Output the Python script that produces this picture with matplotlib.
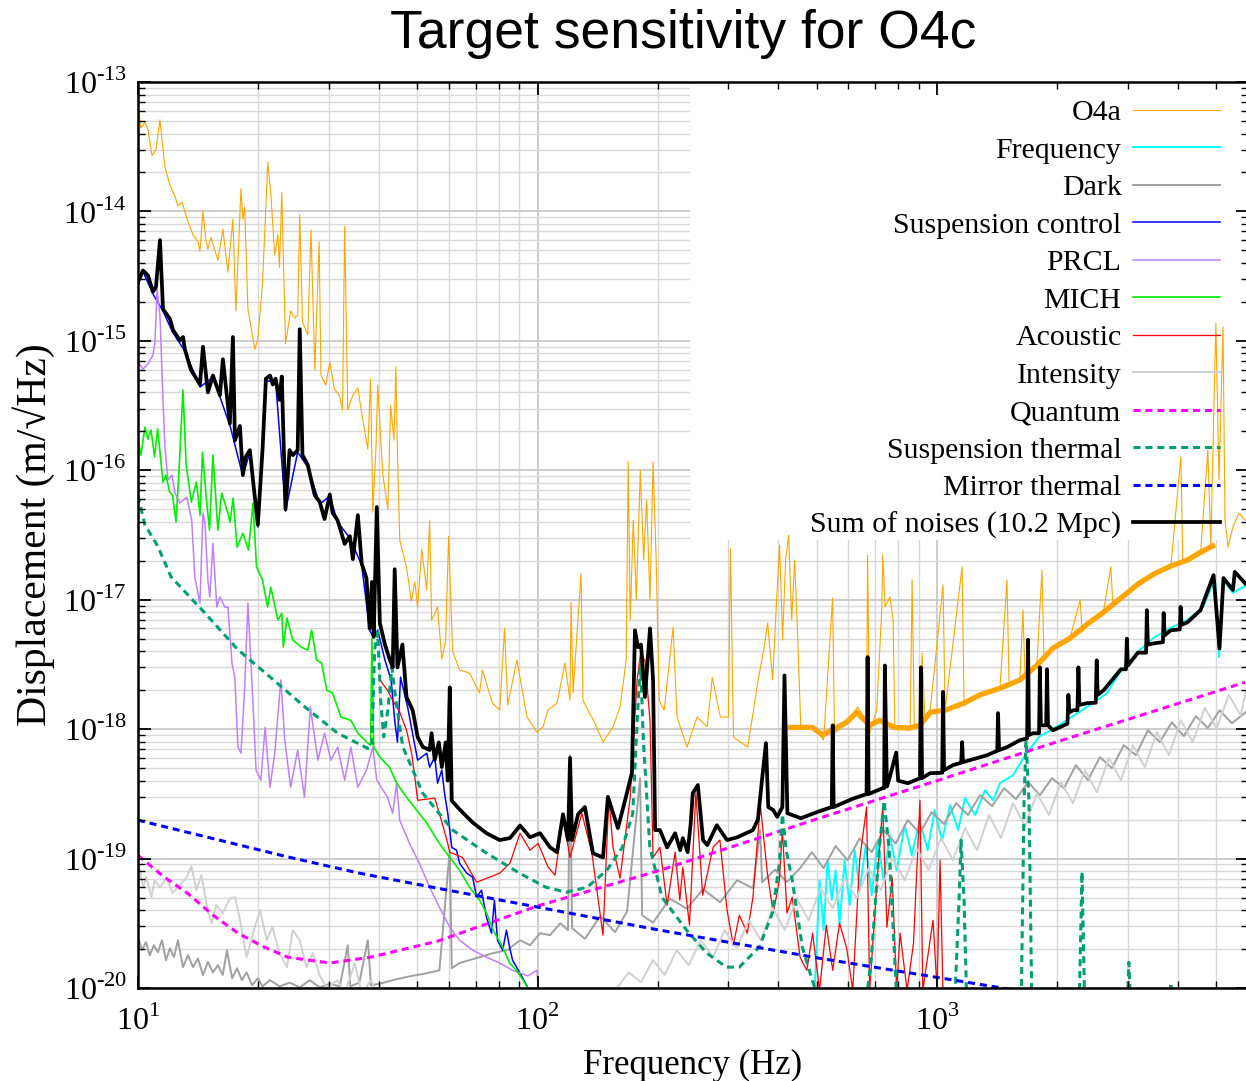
import matplotlib
matplotlib.use("Agg")
import matplotlib.pyplot as plt
import numpy as np
from matplotlib.patches import Rectangle
from matplotlib.ticker import FixedLocator, NullFormatter, FuncFormatter

plt.rcParams["font.family"] = "serif"
plt.rcParams["font.serif"] = ["Liberation Serif", "DejaVu Serif"]
plt.rcParams["mathtext.fontset"] = "custom"
plt.rcParams["mathtext.rm"] = "Liberation Serif"
plt.rcParams["axes.unicode_minus"] = False

# (frequency [Hz], displacement [m/rtHz])
o4a = [(10.0, 6.6e-14), (10.17, 4.4e-14), (10.41, 4.9e-14), (10.59, 4.3e-14), (10.84, 2.7e-14),
       (11.09, 3.0e-14), (11.35, 5.1e-14), (11.55, 3.0e-14), (11.68, 2.2e-14), (12.02, 1.6e-14),
       (12.38, 1.3e-14), (12.59, 1.1e-14), (12.89, 1.18e-14), (13.34, 8.3e-15), (13.73, 6.6e-15),
       (14.13, 5.8e-15), (14.29, 4.9e-15), (14.54, 1.0e-14), (14.79, 6.0e-15), (14.96, 5.1e-15),
       (15.22, 6.3e-15), (15.85, 4.2e-15), (16.31, 7.3e-15), (16.79, 3.4e-15), (17.28, 8.7e-15),
       (17.58, 1.7e-15), (18.1, 1.5e-14), (18.3, 8.7e-15), (18.5, 1.08e-14), (18.84, 1.76e-15),
       (19.6, 8.6e-16), (19.95, 1.03e-15), (20.5, 2.85e-15), (21.13, 2.4e-14), (21.49, 1.4e-14),
       (21.99, 4.6e-15), (22.4, 6.6e-15), (22.6, 3.7e-15), (22.9, 1.4e-14), (23.4, 9.5e-16),
       (24.1, 1.7e-15), (24.7, 1.5e-15), (25.1, 1.58e-15), (25.4, 9.5e-15), (25.8, 1.4e-15),
       (26.6, 1.11e-15), (27.1, 7.2e-15), (27.7, 6.0e-16), (28.4, 5.8e-15), (28.7, 5.45e-16),
       (29.5, 4.56e-16), (30.2, 6.86e-16), (31.0, 4.24e-16), (31.9, 3.81e-16), (32.5, 2.92e-16),
       (32.9, 7.7e-15), (33.5, 2.92e-16), (34.5, 3.81e-16), (35.5, 4.32e-16), (36.5, 2.49e-16),
       (37.6, 1.46e-16), (38.2, 5.07e-16), (38.7, 4.75e-17), (39.4, 1.46e-16), (39.8, 4.56e-16),
       (41.0, 9.2e-17), (42.2, 5.01e-17), (42.9, 3.18e-16), (43.7, 1.71e-16), (44.2, 6.27e-16),
       (44.6, 1.41e-16), (45.2, 2.89e-17), (47.0, 1.79e-17), (48.3, 9.75e-18), (49.3, 1.37e-17),
       (50.1, 8.77e-18), (51.3, 2.46e-17), (52.8, 1.19e-17), (53.7, 4.12e-17), (54.3, 6.95e-18),
       (56.2, 8.77e-18), (57.6, 3.47e-18), (58.9, 4.88e-18), (59.9, 3.1e-17), (61.3, 4.0e-18),
       (63.8, 2.86e-18), (67.6, 2.71e-18), (71.6, 1.9e-18), (72.8, 2.86e-18), (77.1, 1.59e-18),
       (80.4, 1.4e-18), (82.7, 6.03e-18), (84.2, 1.54e-18), (88.8, 3.42e-18), (94.1, 1.24e-18),
       (99.7, 9.48e-19), (103.2, 1.04e-18), (106.1, 1.4e-18), (111.9, 1.59e-18), (117.1, 3.24e-18),
       (120.6, 1.67e-18), (121.3, 9.58e-18), (122.7, 1.9e-18), (128.5, 1.6e-17), (129.9, 1.67e-18),
       (139.2, 1.11e-18), (145.9, 7.94e-19), (154.5, 1.04e-18), (160.9, 1.48e-18), (166.7, 3.42e-18),
       (168.6, 1.16e-16), (170.6, 6.95e-18), (173.6, 4.12e-17), (176.7, 1.0e-17), (180.8, 1.0e-16),
       (184.3, 2.03e-17), (187.5, 5.89e-17), (191.2, 1.0e-17), (194.6, 1.16e-16), (198.1, 2.03e-17),
       (201.6, 1.67e-18), (207.5, 1.4e-18), (218.4, 6.14e-18), (223.4, 1.24e-18), (236.7, 7.26e-19),
       (250.8, 1.24e-18), (265.9, 1.04e-18), (273.7, 2.52e-18), (286.8, 1.24e-18), (300.4, 1.24e-18),
       (303.9, 2.5e-17), (309.3, 8.67e-19), (335.7, 7.26e-19), (357.6, 2.52e-18), (368.1, 4.08e-18),
       (376.6, 6.6e-18), (387.6, 2.4e-18), (396.6, 1.0e-17), (403.5, 2.65e-17), (410.5, 4.88e-18),
       (417.7, 2.03e-17), (425.1, 3.15e-17), (432.6, 6.95e-18), (440.1, 2.03e-17), (448.1, 4.88e-18),
       (455.9, 1.04e-18), (490.9, 1.04e-18), (520.0, 8.22e-19), (547.5, 1.03e-17), (553.8, 9.3e-19),
       (597, 1.13e-18), (632, 1.48e-18), (666, 1.17e-18), (670, 2.22e-17), (678, 9.3e-19),
       (706, 1.4e-18), (727, 8.31e-18), (731, 2.22e-17), (741, 8.77e-18), (762, 1.05e-17),
       (776, 6.95e-18), (784, 1.04e-18), (856, 9.82e-19), (866, 1.42e-17), (877, 1.04e-18),
       (906, 1.04e-18), (917, 3.87e-18), (933, 1.13e-18), (961, 1.4e-18), (1035, 1.3e-17),
       (1047, 1.4e-18), (1155, 1.79e-17), (1168, 1.59e-18), (1281, 1.9e-18), (1437, 2.12e-18),
       (1496, 1.42e-17), (1514, 2.27e-18), (1612, 2.4e-18), (1640, 8.31e-18), (1660, 2.62e-18),
       (1778, 3.24e-18), (1830, 1.69e-17), (1852, 3.42e-18), (1950, 4.31e-18), (2154, 5.13e-18),
       (2281, 1.0e-17), (2307, 5.62e-18), (2377, 6.6e-18), (2612, 8.31e-18), (2722, 1.79e-17),
       (2754, 9.08e-18), (2884, 1.05e-17), (3182, 1.34e-17), (3488, 1.6e-17), (3846, 1.79e-17),
       (4074, 1.27e-16), (4121, 2.0e-17), (4571, 2.42e-17), (4760, 1.43e-16), (4842, 2.65e-17),
       (4985, 1.37e-15), (5077, 8.4e-17), (5195, 1.28e-15), (5255, 4.12e-17), (5350, 2.55e-17),
       (5500, 3.64e-17), (5700, 4.67e-17), (5900, 4.12e-17)]

# dense noise floor of the O4a trace above ~400 Hz
o4a_floor = [(428, 1.03e-18), (488, 1.03e-18), (517, 9.0e-19), (594, 1.13e-18), (629, 1.35e-18),
             (678, 1.07e-18), (718, 1.17e-18), (783, 1.03e-18), (853, 1.02e-18), (906, 1.07e-18),
             (961, 1.35e-18), (1047, 1.4e-18), (1168, 1.59e-18), (1281, 1.84e-18), (1437, 2.07e-18),
             (1612, 2.4e-18), (1778, 3.12e-18), (1950, 4.23e-18), (2154, 5.05e-18), (2377, 6.48e-18),
             (2612, 8.02e-18), (2884, 1.03e-17), (3182, 1.32e-17), (3488, 1.58e-17), (3846, 1.82e-17),
             (4240, 2.03e-17), (4571, 2.33e-17), (4898, 2.6e-17)]

frequency = [(494, 9.6e-21), (508, 6.8e-20), (520, 2.8e-20), (532, 9.7e-20), (545, 4.8e-20),
             (557, 8.1e-20), (570, 3.1e-20), (587, 9.7e-20), (604, 4.4e-20), (622, 1.16e-19),
             (640, 5.7e-20), (663, 1.27e-19), (686, 5.2e-20), (710, 1.38e-19), (735, 6.8e-20),
             (761, 1.52e-19), (792, 8.1e-20), (830, 1.81e-19), (864, 1.06e-19), (904, 1.98e-19),
             (947, 1.16e-19), (986, 2.37e-19), (1029, 1.38e-19), (1078, 2.59e-19), (1129, 1.66e-19),
             (1175, 2.93e-19), (1245, 2.17e-19), (1318, 3.38e-19), (1380, 2.82e-19), (1437, 3.82e-19),
             (1549, 4.41e-19), (1680, 6.64e-19), (1808, 8.83e-19), (1950, 1.0e-18), (2188, 1.26e-18),
             (2455, 1.59e-18), (2661, 1.9e-18), (2871, 2.76e-18), (3170, 3.93e-18), (3475, 5.05e-18),
             (3833, 6.03e-18), (4220, 6.95e-18), (4630, 8.77e-18), (4960, 1.45e-17), (5076, 3.6e-18),
             (5194, 1.42e-17), (5500, 1.13e-17), (5900, 1.28e-17)]

dark = [(10.0, 2.47e-20), (10.23, 1.96e-20), (10.47, 2.26e-20), (10.7, 1.79e-20), (10.96, 2.14e-20),
        (11.22, 1.89e-20), (11.48, 2.34e-20), (11.75, 1.64e-20), (12.02, 2.03e-20), (12.3, 1.73e-20),
        (12.59, 2.34e-20), (12.96, 1.45e-20), (13.34, 1.79e-20), (13.73, 1.45e-20), (14.13, 1.69e-20),
        (14.54, 1.26e-20), (14.96, 1.59e-20), (15.4, 1.32e-20), (15.85, 1.5e-20), (16.3, 1.26e-20),
        (16.7, 1.96e-20), (17.2, 1.19e-20), (17.7, 1.42e-20), (18.2, 1.15e-20), (18.7, 1.32e-20),
        (19.3, 1.05e-20), (19.95, 1.19e-20), (20.5, 1.03e-20), (21.4, 1.15e-20), (22.6, 1.03e-20),
        (24.0, 1.1e-20), (25.4, 1.01e-20), (26.9, 1.15e-20), (28.5, 1.01e-20), (30.2, 1.08e-20),
        (32.0, 1.03e-20), (33.5, 2.14e-20), (34.0, 1.03e-20), (35.8, 1.1e-20), (37.6, 2.34e-20),
        (38.3, 1.05e-20), (40.3, 1.08e-20), (43.4, 1.15e-20), (47.8, 1.23e-20), (52.8, 1.3e-20),
        (56.8, 1.37e-20), (60.3, 1.16e-19), (61.0, 1.42e-20), (63.8, 1.56e-20), (69.8, 1.69e-20),
        (77.4, 1.86e-20), (83.9, 1.96e-20), (90.4, 2.34e-20), (95.8, 2.14e-20), (101.4, 2.65e-20),
        (107.5, 2.56e-20), (114, 3.17e-20), (119.2, 2.8e-20), (120.6, 6.29e-19), (122, 2.9e-20),
        (131.4, 2.4e-20), (143.5, 3.6e-20), (156.3, 2.7e-20), (167.5, 3.9e-20), (180.6, 4.18e-19),
        (182.7, 3.65e-20), (194.6, 3.2e-20), (214.4, 4.9e-20), (236.5, 4.1e-20), (259.5, 5.8e-20),
        (286.4, 4.6e-20), (315.8, 6.8e-20), (346.2, 5.9e-20), (360.6, 1.66e-19), (364.8, 6.57e-20),
        (393, 8.2e-20), (421, 6.6e-20), (454, 8.43e-20), (486, 1.12e-19), (520, 8.43e-20),
        (557, 1.25e-19), (597, 9.72e-20), (640, 1.43e-19), (686, 1.12e-19), (735, 1.66e-19),
        (788, 1.31e-19), (844, 1.98e-19), (906, 1.57e-19), (969, 2.28e-19), (1041, 1.85e-19),
        (1116, 2.68e-19), (1195, 2.17e-19), (1281, 3.09e-19), (1373, 2.54e-19), (1471, 3.5e-19),
        (1576, 2.88e-19), (1689, 3.9e-19), (1809, 3.09e-19), (1939, 4.18e-19), (2077, 3.5e-19),
        (2226, 5.27e-19), (2385, 4.04e-19), (2556, 6.08e-19), (2738, 4.99e-19), (2934, 7.52e-19),
        (3144, 6.29e-19), (3369, 9.82e-19), (3610, 7.94e-19), (3868, 1.13e-18), (4145, 8.83e-19),
        (4442, 1.26e-18), (4760, 1.02e-18), (5100, 1.4e-18), (5465, 1.11e-18), (5920, 1.35e-18)]

susp_control = [(10.0, 2.75e-15), (10.3, 3.41e-15), (10.9, 2.3e-15), (11.55, 1.7e-15), (12.2, 1.17e-15),
                (13.1, 8.34e-16), (14.3, 4.39e-16), (15.4, 5.26e-16), (17.0, 2.2e-16), (18.3, 9.02e-17),
                (19.05, 1.38e-16), (19.95, 3.64e-17), (20.9, 4.89e-16), (22.1, 4.89e-16), (23.4, 4.84e-17),
                (25.1, 1.38e-16), (26.6, 1.06e-16), (28.5, 5.48e-17), (30.2, 6.32e-17), (31.6, 3.98e-17),
                (33.9, 3.0e-17), (36.3, 1.85e-17), (38.0, 5.82e-18), (38.9, 5.05e-18), (39.8, 5.82e-18),
                (41.5, 3.42e-18), (43.0, 2.4e-18), (43.9, 1.17e-18), (44.6, 7.94e-19), (45.4, 2.52e-18),
                (47.3, 1.48e-18), (50.1, 5.76e-19), (52.8, 6.52e-19), (53.7, 5.08e-19), (55.3, 6.08e-19),
                (56.2, 3.82e-19), (57.6, 4.82e-19), (58.5, 3.2e-19), (59.6, 2.24e-19), (61.0, 1.22e-19),
                (62.7, 1.16e-19), (63.8, 9.21e-20), (66.5, 7.71e-20), (68.8, 7.18e-20), (70.4, 5.03e-20),
                (72.4, 5.7e-20), (74.5, 3.52e-20), (76.7, 2.65e-20), (78.0, 4.77e-20), (79.4, 2.34e-20),
                (81.8, 1.96e-20), (83.6, 2.8e-20), (85.1, 2.07e-20), (86.6, 1.64e-20), (90.4, 1.3e-20),
                (94.5, 1.01e-20), (97.3, 8e-21)]

prcl = [(10.0, 6.86e-16), (10.29, 6.05e-16), (10.59, 6.62e-16), (10.9, 7.77e-16), (11.03, 9.79e-16),
        (11.16, 2.51e-15), (11.35, 1.58e-15), (11.55, 3.49e-16), (11.68, 1.51e-16), (11.88, 8.4e-17),
        (12.16, 9.18e-17), (12.38, 6.67e-17), (12.73, 5.58e-17), (13.25, 6.2e-17), (13.63, 4.12e-17),
        (13.87, 1.5e-17), (14.29, 9.41e-18), (14.54, 4.67e-17), (14.71, 3.91e-17), (14.96, 1.42e-17),
        (15.13, 1.05e-17), (15.4, 2.74e-17), (15.75, 8.77e-18), (16.03, 1.05e-17), (16.5, 8.77e-18),
        (16.79, 8.77e-18), (17.19, 3.24e-18), (17.48, 2.48e-18), (17.79, 7.26e-19), (18.1, 6.52e-19),
        (18.5, 2.12e-18), (18.84, 9.41e-18), (19.4, 1.59e-18), (19.75, 4.82e-19), (20.3, 4.04e-19),
        (20.8, 1.03e-18), (21.4, 3.56e-19), (21.99, 6.52e-19), (22.78, 2.4e-18), (23.3, 8.22e-19),
        (24.1, 3.56e-19), (25.1, 6.88e-19), (26.1, 2.98e-19), (27.0, 1.48e-18), (28.2, 5.76e-19),
        (29.3, 9.3e-19), (30.4, 5.76e-19), (31.6, 7.26e-19), (32.9, 4.04e-19), (34.1, 7.26e-19),
        (35.5, 3.56e-19), (37.3, 4.82e-19), (38.7, 7.26e-19), (39.6, 4.04e-19), (42.1, 2.98e-19),
        (43.4, 2.24e-19), (44.4, 3.82e-19), (45.2, 1.98e-19), (47.8, 1.31e-19), (50.6, 9.21e-20),
        (53.7, 6.0e-20), (56.8, 4.21e-20), (60.3, 2.95e-20), (63.8, 2.34e-20), (68.8, 1.96e-20),
        (74.5, 1.73e-20), (80.4, 1.56e-20), (86.6, 1.37e-20), (94.5, 1.24e-20), (99.7, 1.37e-20),
        (100.9, 8e-21)]

mich = [(10.0, 1.74e-16), (10.17, 1.31e-16), (10.41, 2.16e-16), (10.59, 1.74e-16), (10.78, 2.05e-16),
        (11.0, 1.27e-16), (11.2, 2.08e-16), (11.55, 8.1e-17), (11.75, 9.18e-17), (12.0, 6.79e-17),
        (12.2, 6.43e-17), (12.45, 3.98e-17), (12.7, 1.16e-16), (12.96, 4.17e-16), (13.2, 1.1e-16),
        (13.6, 5.68e-17), (14.0, 8.1e-17), (14.3, 4.5e-17), (14.5, 1.38e-16), (14.8, 6.43e-17),
        (15.1, 3.45e-17), (15.4, 1.31e-16), (15.85, 3.45e-17), (16.2, 6.67e-17), (16.7, 4.93e-17),
        (17.0, 3.98e-17), (17.3, 6.1e-17), (17.7, 2.55e-17), (18.3, 3.27e-17), (18.9, 2.42e-17),
        (19.4, 5.58e-17), (19.8, 1.79e-17), (20.5, 1.42e-17), (21.1, 8.77e-18), (21.5, 1.25e-17),
        (22.4, 6.95e-18), (22.9, 7.88e-18), (23.1, 4.31e-18), (23.6, 7.2e-18), (24.4, 4.88e-18),
        (25.6, 4.31e-18), (26.6, 4.08e-18), (27.2, 5.82e-18), (28.0, 3.42e-18), (28.8, 3.24e-18),
        (29.7, 2.0e-18), (30.7, 1.9e-18), (32.2, 1.24e-18), (34.1, 1.17e-18), (35.5, 9.3e-19),
        (37.6, 7.8e-19), (38.2, 7.52e-19), (38.5, 5.05e-18), (38.9, 7.26e-19), (40.3, 6.08e-19),
        (42.6, 5.08e-19), (44.4, 3.82e-19), (47.0, 2.98e-19), (49.8, 2.37e-19), (52.8, 1.88e-19),
        (56.8, 1.31e-19), (60.3, 1.02e-19), (63.8, 8.14e-20), (67.6, 6.0e-20), (71.6, 4.77e-20),
        (74.5, 3.79e-20), (77.4, 2.8e-20), (81.8, 2.07e-20), (85.1, 1.56e-20), (88.5, 1.37e-20),
        (92.0, 1.15e-20), (95.8, 9.3e-21)]

acoustic = [(40.3, 2.4e-18), (42.1, 2.0e-18), (43.4, 1.67e-18), (45.2, 1.35e-18), (47.0, 9.82e-19),
            (48.4, 6.52e-19), (49.3, 4.26e-19), (50.1, 2.82e-19), (55.3, 2.93e-19), (56.8, 2.24e-19),
            (59.3, 1.39e-19), (60.3, 1.12e-19), (64.9, 1.02e-19), (67.6, 8.14e-20), (70.4, 6.57e-20),
            (80.4, 7.71e-20), (85.3, 9.21e-20), (90.4, 1.57e-19), (95.8, 1.16e-19), (100.3, 1.31e-19),
            (106.3, 8.58e-20), (110.6, 7.44e-20), (115.8, 2.05e-19), (120.6, 1.02e-19), (129.1, 2.24e-19),
            (136.8, 1.1e-19), (145.8, 2.56e-20), (150.8, 2.93e-19), (154.5, 1.22e-19), (160.9, 7.05e-20),
            (170.6, 2.98e-19), (177.5, 2.4e-18), (180.8, 3.74e-18), (185.7, 3.42e-18), (191.2, 1.17e-18),
            (194.6, 1.02e-19), (202.5, 1.22e-19), (211, 4.37e-20), (221, 1.12e-19), (227, 4.77e-20),
            (231, 8.58e-20), (240, 3.06e-20), (249, 3.2e-19), (259, 5.21e-20), (275, 1.22e-19),
            (286, 1.39e-19), (298, 4.0e-20), (309, 2.14e-20), (320, 3.65e-20), (335, 2.65e-20),
            (346, 5.03e-20), (361, 2.59e-19), (376, 7.71e-20), (389, 3.79e-20), (403, 6.81e-20),
            (410, 1.66e-19), (421, 3.79e-20), (434, 5.03e-20), (454, 1.73e-20), (472, 1.37e-20),
            (488, 2.65e-20), (508, 9.6e-21), (528, 3.06e-20), (548, 1.37e-20), (570, 3.17e-20),
            (594, 2.03e-20), (615, 9.6e-21), (640, 9.72e-20), (666, 2.5e-19), (678, 9.6e-21),
            (704, 5.4e-20), (731, 2.5e-19), (749, 2.95e-20), (772, 7.18e-20), (792, 9.6e-21),
            (808, 2.65e-20), (841, 9.6e-21), (873, 2.22e-20), (906, 2.82e-19), (921, 9.6e-21),
            (977, 3.34e-20), (1000, 9.6e-21), (1017, 9.72e-20), (1035, 8.8e-21), (1135, 8e-21)]

intensity = [(10.0, 9.72e-20), (10.3, 6.0e-20), (10.5, 7.18e-20), (10.8, 5.03e-20), (11.0, 6.81e-20),
             (11.35, 6.0e-20), (11.8, 7.05e-20), (12.2, 5.4e-20), (12.7, 6.23e-20), (13.2, 7.05e-20),
             (13.6, 8.73e-20), (14.0, 5.7e-20), (14.4, 7.44e-20), (14.9, 4.21e-20), (15.3, 3.17e-20),
             (15.7, 4.37e-20), (16.3, 3.79e-20), (17.0, 4.94e-20), (17.5, 5.03e-20), (18.0, 3.34e-20),
             (18.7, 1.73e-20), (19.4, 2.65e-20), (20.2, 4.0e-20), (21.0, 2.34e-20), (21.7, 2.95e-20),
             (22.6, 1.86e-20), (23.6, 1.45e-20), (24.4, 2.8e-20), (25.4, 2.34e-20), (26.4, 1.45e-20),
             (27.4, 1.86e-20), (28.5, 1.24e-20), (29.7, 1.01e-20), (31.6, 1.15e-20), (32.9, 9e-21),
             (34.9, 1.56e-20), (36.3, 9e-21), (38.3, 1.15e-20), (40.3, 8e-21), (143.5, 8e-21),
             (158, 9.96e-21), (169, 1.32e-20), (181.5, 1.11e-20), (194.5, 1.64e-20), (208, 1.26e-20),
             (223, 1.96e-20), (239, 1.5e-20), (256, 2.34e-20), (275, 1.73e-20), (294, 2.8e-20),
             (315, 2.03e-20), (338, 3.34e-20), (362, 2.34e-20), (388, 4.14e-20), (416, 2.8e-20),
             (445, 4.94e-20), (477, 3.34e-20), (511, 5.91e-20), (548, 4.14e-20), (587, 7.05e-20),
             (629, 4.94e-20), (674, 8.43e-20), (723, 5.7e-20), (774, 1.01e-19), (830, 6.81e-20),
             (889, 1.2e-19), (952, 8.14e-20), (1023, 1.44e-19), (1096, 9.72e-20), (1175, 1.72e-19),
             (1259, 1.16e-19), (1349, 2.17e-19), (1445, 1.44e-19), (1549, 2.68e-19), (1660, 1.78e-19),
             (1778, 3.2e-19), (1905, 2.17e-19), (2042, 3.9e-19), (2188, 2.68e-19), (2344, 4.82e-19),
             (2512, 3.26e-19), (2692, 5.98e-19), (2884, 4.04e-19), (3090, 7.52e-19), (3311, 5.08e-19),
             (3548, 9.48e-19), (3802, 6.29e-19), (4074, 1.17e-18), (4365, 7.94e-19), (4677, 1.46e-18),
             (5012, 1.02e-18), (5370, 1.84e-18), (5754, 1.28e-18), (5920, 1.94e-18)]

quantum = [(10, 1.06e-19), (11.5, 7.4e-20), (13.3, 5.4e-20), (15.4, 3.66e-20), (17.8, 2.65e-20),
           (20.5, 2.1e-20), (23.7, 1.73e-20), (30.2, 1.56e-20), (38.2, 1.73e-20), (56.2, 2.3e-20),
           (100, 4.3e-20), (202, 8.1e-20), (507, 2.05e-19), (1000, 4.0e-19), (2000, 8.0e-19),
           (5900, 2.3e-18)]

susp_thermal = [(10.0, 6.4e-17), (10.4, 3.8e-17), (11.2, 2.6e-17), (12.1, 1.5e-17), (14.7, 7.9e-18),
                (17.8, 4.1e-18), (21.5, 2.5e-18), (26.2, 1.48e-18), (31.6, 9.3e-19), (37.6, 7.1e-19),
                (38.5, 7.4e-19), (39.1, 4.1e-18), (39.8, 5.6e-18), (40.5, 1.67e-18), (41.2, 8.7e-19),
                (42.2, 1.4e-18), (43.2, 3.0e-18), (44.2, 1.67e-18), (46.0, 7.3e-19), (51.6, 3.2e-19),
                (61.3, 1.66e-19), (74.6, 1.1e-19), (90.2, 7.7e-20), (105, 6.0e-20), (118, 5.5e-20),
                (133, 6.0e-20), (149, 8.1e-20), (163, 1.22e-19), (173, 2.2e-19), (178, 1.33e-18),
                (181, 3.3e-18), (184, 8.2e-19), (191, 1.22e-19), (205, 5.0e-20), (236, 2.8e-20),
                (265, 1.86e-20), (297, 1.45e-20), (320, 1.45e-20), (359, 2.07e-20), (387, 3.8e-20),
                (403, 9.2e-20), (410, 2.2e-19), (419, 1.16e-19), (434, 6.8e-20), (460, 2.07e-20),
                (487, 1.15e-20), (522, 6e-21), (657, 6e-21), (684, 1.64e-20), (716, 1.16e-19),
                (737, 2.8e-19), (759, 1.16e-19), (790, 1.0e-20), (827, 6e-21), (1103, 6e-21),
                (1135, 4.8e-20), (1148, 1.39e-19), (1168, 4.8e-20), (1189, 6e-21), (1622, 6e-21),
                (1651, 2.8e-19), (1669, 8.2e-19), (1698, 2.8e-19), (1728, 6e-21), (2265, 6e-21),
                (2305, 7.9e-20), (2344, 6e-21), (2985, 6e-21), (3020, 1.58e-20), (3055, 6e-21),
                (3802, 6e-21), (3846, 1.1e-20), (3890, 6e-21), (5900, 6e-21)]

mirror_thermal = [(10, 1.98e-19), (23.7, 1.03e-19), (35.9, 7.7e-20), (56.2, 5.9e-20), (202, 2.8e-20),
                  (507, 1.7e-20), (1454, 1.0e-20), (2541, 7.4e-21)]

noise_sum = [(10.0, 2.85e-15), (10.29, 3.5e-15), (10.59, 3.2e-15), (10.9, 2.4e-15), (11.09, 2.6e-15),
             (11.35, 6.0e-15), (11.55, 1.76e-15), (12.02, 1.48e-15), (12.24, 1.21e-15), (12.73, 1.01e-15),
             (12.96, 1.07e-15), (13.1, 8.6e-16), (13.56, 6.0e-16), (14.29, 4.6e-16), (14.54, 9.0e-16),
             (14.96, 4.0e-16), (15.4, 5.4e-16), (16.03, 3.8e-16), (16.31, 7.2e-16), (16.98, 2.3e-16),
             (17.28, 1.07e-15), (17.48, 1.7e-16), (17.99, 2.2e-16), (18.3, 9.2e-17), (18.6, 1.27e-16),
             (19.05, 1.43e-16), (19.4, 8.4e-17), (19.95, 3.8e-17), (20.5, 1.46e-16), (20.9, 5.1e-16),
             (21.4, 5.4e-16), (21.75, 4.6e-16), (22.1, 5.1e-16), (22.6, 3.5e-16), (22.9, 5.3e-16),
             (23.4, 5.0e-17), (23.95, 1.43e-16), (24.4, 1.31e-16), (25.1, 1.43e-16), (25.4, 1.23e-15),
             (25.8, 1.31e-16), (26.6, 1.1e-16), (27.7, 6.4e-17), (28.5, 5.7e-17), (29.3, 4.2e-17),
             (30.2, 6.5e-17), (30.7, 4.7e-17), (31.6, 4.1e-17), (32.9, 2.7e-17), (33.9, 3.1e-17),
             (34.5, 2.06e-17), (35.5, 4.5e-17), (36.3, 1.9e-17), (37.3, 1.47e-17), (38.0, 6.0e-18),
             (38.5, 1.37e-17), (38.9, 5.2e-18), (39.6, 5.2e-17), (40.3, 6.6e-18), (41.5, 4.5e-18),
             (42.6, 3.5e-18), (43.4, 3.0e-18), (43.9, 1.72e-17), (44.6, 3.0e-18), (45.9, 4.5e-18),
             (47.0, 1.77e-18), (48.7, 1.4e-18), (50.1, 8.7e-19), (51.6, 7.3e-19), (53.7, 6.9e-19),
             (54.3, 9.3e-19), (55.3, 5.8e-19), (56.6, 7.9e-19), (57.6, 5.1e-19), (58.9, 7.9e-19),
             (59.6, 4.0e-19), (60.3, 2.1e-18), (61.0, 2.8e-19), (63.8, 2.4e-19), (68.8, 1.9e-19),
             (74.5, 1.57e-19), (80.4, 1.39e-19), (85.3, 1.44e-19), (90.4, 1.8e-19), (95.8, 1.46e-19),
             (101.4, 1.57e-19), (107.5, 1.22e-19), (111.9, 1.12e-19), (115.8, 2.2e-19), (119.2, 1.39e-19),
             (120.6, 6.0e-19), (122.0, 1.39e-19), (126.3, 2.2e-19), (131.4, 2.5e-19), (137.6, 1.1e-19),
             (145.8, 1.02e-19), (150.0, 3.0e-19), (158.9, 1.72e-19), (165.5, 2.8e-19), (172.3, 4.6e-19),
             (175.3, 5.8e-18), (178.4, 4.3e-18), (181.5, 4.5e-18), (185.7, 1.77e-18), (191.2, 6.0e-18),
             (194.6, 2.4e-18), (196.9, 1.66e-19), (202.5, 1.66e-19), (211, 1.22e-19), (221, 1.57e-19),
             (227.5, 1.16e-19), (231, 1.44e-19), (237.5, 1.12e-19), (241.8, 1.88e-19), (244.6, 3.2e-19),
             (251.9, 3.7e-19), (259.5, 1.39e-19), (265.9, 1.27e-19), (281, 1.81e-19), (298, 1.39e-19),
             (316, 1.46e-19), (346, 1.66e-19), (356, 2.0e-19), (365, 4.2e-19), (373, 7.8e-19),
             (378, 2.5e-19), (389, 2.37e-19), (398, 2.1e-19), (410, 2.5e-19), (415, 2.6e-18),
             (422, 2.24e-19), (456, 2.05e-19), (509, 2.33e-19), (545, 2.5e-19), (548, 1.07e-18),
             (551, 2.5e-19), (615, 2.9e-19), (666, 3.15e-19), (670, 3.6e-18), (674, 3.15e-19),
             (731, 3.5e-19), (737, 3.5e-19), (740, 3.1e-18), (749, 3.6e-19), (762, 4.3e-19),
             (790, 6.6e-19), (799, 4.0e-19), (845, 3.82e-19), (906, 4.18e-19), (911, 3.0e-18),
             (917, 4.18e-19), (961, 4.57e-19), (1030, 4.6e-19), (1035, 1.94e-18), (1041, 4.82e-19),
             (1096, 5.27e-19), (1149, 5.5e-19), (1155, 7.94e-19), (1161, 5.56e-19), (1334, 6.29e-19),
             (1414, 6.8e-19), (1421, 1.33e-18), (1429, 6.88e-19), (1496, 7.26e-19), (1612, 8.22e-19),
             (1680, 8.5e-19), (1689, 4.9e-18), (1698, 9.0e-19), (1738, 9.3e-19), (1800, 9.3e-19),
             (1808, 3.0e-18), (1819, 1.07e-18), (1875, 1.07e-18), (1884, 2.9e-18), (1895, 1.07e-18),
             (1950, 9.8e-19), (2120, 1.1e-18), (2131, 1.84e-18), (2143, 1.35e-18), (2193, 1.4e-18),
             (2245, 1.4e-18), (2258, 3.0e-18), (2271, 1.54e-18), (2380, 1.59e-18), (2495, 1.6e-18),
             (2509, 3.4e-18), (2523, 1.84e-18), (2612, 2.0e-18), (2884, 2.9e-18), (2970, 2.9e-18),
             (2985, 5.0e-18), (3003, 3.1e-18), (3181, 3.9e-18), (3335, 3.9e-18), (3350, 8.3e-18),
             (3370, 4.5e-18), (3488, 4.6e-18), (3675, 4.7e-18), (3690, 7.9e-18), (3711, 5.3e-18),
             (3842, 5.8e-18), (4050, 5.9e-18), (4068, 8.8e-18), (4092, 6.4e-18), (4236, 6.7e-18),
             (4564, 8.3e-18), (4920, 1.55e-17), (5090, 4.2e-18), (5210, 1.47e-17), (5500, 1.19e-17),
             (5560, 1.64e-17), (5900, 1.34e-17)]

x_major = [10, 100, 1000]
y_major = [1e-20, 1e-19, 1e-18, 1e-17, 1e-16, 1e-15, 1e-14, 1e-13]


def cols(points):
    a = np.array(points, dtype=float)
    return a[:, 0], a[:, 1]


W, H = 1246, 1081
fig = plt.figure(figsize=(W / 100, H / 100), dpi=100)
rect = [138 / W, 93 / H, 1110 / W, 906 / H]
ax = fig.add_axes(rect)

dash = (0, (2.3, 1.6))
series = [
    (o4a, "O4a", dict(color="#ffa500", lw=0.8)),
    (frequency, "Frequency", dict(color="#00ffff", lw=1.4)),
    (dark, "Dark", dict(color="#a0a0a0", lw=1.4)),
    (susp_control, "Suspension control", dict(color="#0000ff", lw=1.1)),
    (prcl, "PRCL", dict(color="#bf80ff", lw=1.1)),
    (mich, "MICH", dict(color="#00ee00", lw=1.2)),
    (acoustic, "Acoustic", dict(color="#ff0000", lw=0.9)),
    (intensity, "Intensity", dict(color="#d0d0d0", lw=1.4)),
    (quantum, "Quantum", dict(color="#ff00ff", lw=2.2, ls=dash)),
    (susp_thermal, "Suspension thermal", dict(color="#009e73", lw=2.2, ls=dash)),
    (mirror_thermal, "Mirror thermal", dict(color="#0000ff", lw=2.2, ls=dash)),
    (noise_sum, "Sum of noises (10.2 Mpc)", dict(color="black", lw=2.7)),
]

handles = []
for i, (pts, label, style) in enumerate(series):
    f, d = cols(pts)
    ln, = ax.plot(f, d, label=label, zorder=2 + i * 0.01, **style)
    handles.append(ln)
    if label == "O4a":
        ff, fd = cols(o4a_floor)
        ax.plot(ff, fd, color="#ffa500", lw=3.8, zorder=2)

ax.set_xscale("log")
ax.set_yscale("log")
ax.set_xlim(10, 6000)
ax.set_ylim(1e-20, 1e-13)


def set_ticks(a):
    a.xaxis.set_major_locator(FixedLocator(x_major))
    a.yaxis.set_major_locator(FixedLocator(y_major))
    xm = [m * 10 ** e for e in range(1, 4) for m in range(2, 10) if m * 10 ** e <= 6000]
    ym = [m * 10.0 ** e for e in range(-20, -13) for m in range(2, 10)]
    a.xaxis.set_minor_locator(FixedLocator(xm))
    a.yaxis.set_minor_locator(FixedLocator(ym))
    a.xaxis.set_minor_formatter(NullFormatter())
    a.yaxis.set_minor_formatter(NullFormatter())


def pow_label(v, pos):
    e = int(round(np.log10(v)))
    if e < 0:
        return "$10^{\u2010%d}$" % (-e)
    return "$10^{%d}$" % e


set_ticks(ax)
ax.xaxis.set_major_formatter(FuncFormatter(pow_label))
ax.yaxis.set_major_formatter(FuncFormatter(pow_label))
ax.grid(True, which="major", color="#c8c8c8", lw=1.3)
ax.grid(True, which="minor", color="#d8d8d8", lw=1.0)
ax.set_axisbelow(True)
ax.tick_params(which="both", length=0)
ax.tick_params(axis="x", labelsize=23, pad=13)
ax.tick_params(axis="y", labelsize=23, pad=8)
for s in ax.spines.values():
    s.set_visible(False)

# white key box over the grid (lines still pass over it)
ax.add_patch(Rectangle((0.497, 0.4945), 0.51, 0.51, transform=ax.transAxes,
                       facecolor="white", edgecolor="none", zorder=1))

ax.set_xlabel("Frequency (Hz)", fontsize=25, labelpad=8)
ax.set_ylabel("Displacement (m/\u221aHz)", fontsize=30, labelpad=6)

leg = ax.legend(handles=handles, loc="upper right", bbox_to_anchor=(0.9748, 0.981),
                frameon=False, fontsize=21.5, markerfirst=False, handlelength=2.9,
                handletextpad=0.4, labelspacing=0.355, borderpad=0, borderaxespad=0)

# overlay axes carrying the frame and inward ticks on top of the key box
ov = fig.add_axes(rect, facecolor="none")
ov.set_xscale("log")
ov.set_yscale("log")
ov.set_xlim(ax.get_xlim())
ov.set_ylim(ax.get_ylim())
set_ticks(ov)
ov.tick_params(which="both", direction="in", top=True, right=True,
               labelbottom=False, labelleft=False)
ov.tick_params(which="major", length=9, width=1.3)
ov.tick_params(which="minor", length=5, width=1.0)
for s in ov.spines.values():
    s.set_linewidth(1.8)

fig.text(683 / W, 1 - 34 / H, "Target sensitivity for O4c", family="Liberation Sans",
         fontsize=38.5, ha="center", va="center")

fig.savefig("out.png", dpi=100)
